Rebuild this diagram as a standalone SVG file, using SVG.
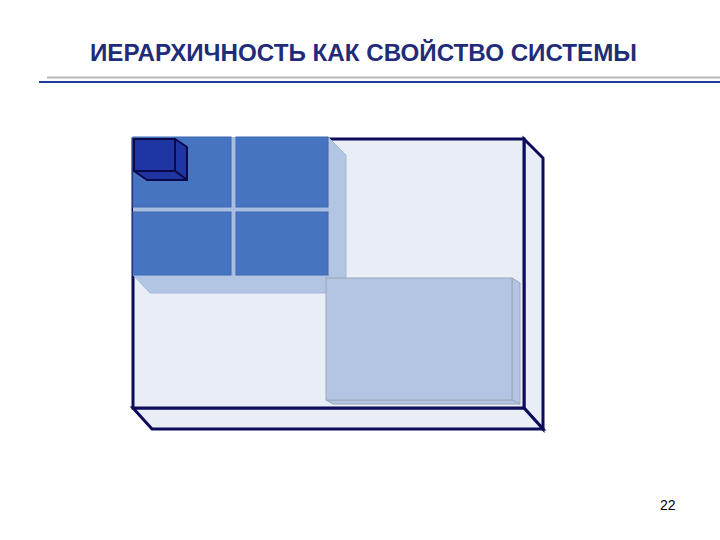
<svg xmlns="http://www.w3.org/2000/svg" width="720" height="540" viewBox="0 0 720 540">
<style>
.frame{fill:#E9EEF6;stroke:#0C0C5A;stroke-width:3;stroke-linejoin:miter}
.cell{fill:#4674C1;stroke:#3F69B3;stroke-width:1}
.ext{fill:#B2C5E3;stroke:#A6B8D8;stroke-width:1}
.lbox{fill:#B3C5E2;stroke:#9AA6B8;stroke-width:1}
.cube{fill:#1F36A2;stroke:#0A0A4A;stroke-width:2;stroke-linejoin:round}
.title{font-family:"Liberation Sans",Arial,sans-serif;font-weight:bold;font-size:24px;fill:#1F2C7A}
.num{font-family:"Liberation Sans",Arial,sans-serif;font-size:14px;fill:#000}
</style>
<rect width="720" height="540" fill="#FFFFFF"/>
<g id="header">
<text class="title" x="90" y="61" textLength="547" lengthAdjust="spacingAndGlyphs">ИЕРАРХИЧНОСТЬ КАК СВОЙСТВО СИСТЕМЫ</text>
<line x1="47" y1="77.5" x2="720" y2="77.5" stroke="#B8B8B8" stroke-width="2"/>
<line x1="39" y1="82" x2="720" y2="82" stroke="#1F3AA0" stroke-width="2.2"/>
</g>
<g id="system-box">
<polygon class="frame" points="524,139 543,158 543,429 524,408"/>
<polygon class="frame" points="133,408 524,408 543,429 152,429"/>
<rect class="frame" x="133" y="139" width="391" height="269"/>
</g>
<g id="subsystem-block">
<polygon class="ext" points="328,137 346,155 346,293 328,275"/>
<polygon class="ext" points="133,275 328,275 346,293 150,293"/>
<rect x="133" y="137" width="195" height="138" fill="#A9BDE0"/>
<rect class="cell" x="133" y="137" width="98" height="70"/>
<rect class="cell" x="236" y="137" width="92" height="70"/>
<rect class="cell" x="133" y="212" width="98" height="63"/>
<rect class="cell" x="236" y="212" width="92" height="63"/>
</g>
<g id="element-cube">
<polygon class="cube" points="175,139 187,147 187,180 175,171"/>
<polygon class="cube" points="134,171 175,171 187,180 147,180"/>
<rect class="cube" x="134" y="139" width="41" height="32"/>
</g>
<g id="lower-box">
<polygon class="lbox" points="512,278 520,283 520,404 512,400"/>
<polygon class="lbox" points="326,400 512,400 520,404 333,404"/>
<rect class="lbox" x="326" y="278" width="186" height="122"/>
</g>
<g id="page-number">
<text class="num" x="660" y="510">22</text>
</g>
</svg>
